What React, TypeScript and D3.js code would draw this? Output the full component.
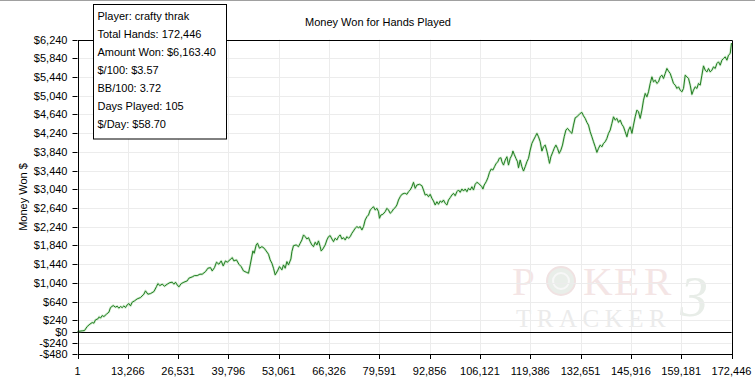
import React from "react";
import * as d3 from "d3";

const hands: number[] = [
  1,1239,1846,2558,3270,3876,4324,4746,5379,5722,6065,6513,6961,7647,8280,8701,9413,10020,10468,10916,
  11338,11786,12235,12657,13105,13553,13975,14423,15030,15742,16612,17508,17930,18563,19249,20145,20831,21200,21727,22334,
  22940,23652,24364,24971,25419,25841,26289,26737,27344,28056,28926,29374,30244,30851,31563,32275,32881,33751,34384,35069,
  35518,36124,36652,37284,37891,38418,39025,39472,40185,40791,41240,41925,42558,43164,
  43771,44483,45089,45537,46250,46592,47120,47462,47990,48623,49229,49757,50363,50811,51259,51681,52129,52736,53263,53896,
  54318,54766,55215,55636,56269,56533,56955,57667,58273,58722,59170,59592,60040,60488,60910,61358,61807,62228,62677,63125,
  63547,63995,64259,64707,65314,65762,66184,66632,67080,67502,67951,68399,68821,69269,69717,70139,70587,71035,71457,71906,
  72354,72776,73224,73672,74094,74542,74990,75412,75861,76309,76731,77179,77627,78049,78497,78946,79368,79631,80000,80528,
  81134,81583,82004,82453,82901,83323,83771,84219,84641,85089,85538,86142,
  86407,86855,87278,87726,88174,88596,89044,89492,90179,90811,91233,91681,92130,92552,93000,93448,93870,94318,94766,95188,
  95636,96085,96507,96955,97403,97825,98273,98721,99143,99592,100040,100462,100910,101358,101780,102229,102677,103099,103547,103995,
  104417,104866,105314,105736,106184,106632,106896,107239,107766,108215,108636,109085,109533,109955,110403,110851,111195,111643,111907,112328,
  112777,113225,113647,114095,114543,114807,115150,115598,116020,116283,116731,117180,117602,118050,118498,118920,119368,119816,120238,120687,
  121135,121557,122005,122453,122875,123324,123772,124194,124457,124826,125354,125697,126145,126565,127014,127463,127885,128333,128781,129203,
  129917,
  130361,130785,131233,131681,132103,132551,133000,133422,133870,134318,134740,135188,135637,136059,136507,136955,137377,137825,138273,138695,
  139144,139592,140014,140462,140910,141332,141780,142229,142651,143099,143547,143969,144417,144866,145288,145736,146184,146606,147054,147503,
  147925,148373,148821,149243,149692,150140,150562,151010,151458,151880,152329,152777,153199,153647,154095,154517,154966,155414,155836,156284,
  156732,157154,157603,158051,158473,158921,159369,159791,160240,160688,161110,161558,162006,162428,162877,163325,163747,164195,164643,165065,
  165514,165962,166384,166832,167280,167702,168151,168599,169021,169469,169917,170339,170788,171236,171658,172106,172446,
];

const moneyWon: number[] = [
  0,15,21,107,158,192,179,250,271,314,286,341,320,371,414,512,555,521,542,499,
  534,512,548,512,570,598,548,627,655,698,726,798,869,798,811,854,960,1024,982,1012,
  969,1012,1046,1054,1012,1054,997,954,1024,1054,1082,1140,1167,1195,1195,1225,1225,1280,1353,1366,
  1295,1366,1481,1438,1509,1402,1509,1481,1530,1579,1509,1530,1438,1387,
  1295,1268,1246,1423,1722,1673,1850,1886,1780,1814,1780,1722,1652,1530,1460,1353,1210,1295,1387,1317,
  1423,1353,1494,1423,1551,1707,1835,1850,1814,1886,1957,2064,2027,1978,2006,1921,1850,1814,1908,1850,
  1936,1814,1722,1765,1850,1957,2027,2049,1978,1921,1993,1957,2027,2064,1978,2006,1957,2027,1993,2027,
  2100,2149,2207,2241,2219,2241,2170,2241,2384,2454,2490,2597,2633,2668,2597,2633,2561,2420,2490,2505,
  2561,2633,2597,2527,2561,2618,2646,2704,2810,2881,2932,2953,
  2953,2932,2988,3024,3094,3188,3060,3131,3146,3116,3024,2917,2932,2881,2932,2847,2789,2704,2774,2719,
  2789,2761,2810,2740,2704,2810,2860,2917,2953,2902,2988,3024,2975,3045,3003,3045,2988,3060,3024,3094,
  3024,3146,3188,3167,3131,3094,3045,3131,3201,3286,3402,3472,3451,3521,3594,3628,3700,3713,3628,3557,
  3664,3735,3557,3700,3771,3856,3786,3700,3628,3500,3664,3521,3429,3521,3628,3700,3877,4020,4091,4161,
  4234,4161,4055,3856,3948,3984,3856,3700,3594,3735,3841,3914,3984,3914,3807,3877,3984,4161,4304,4341,
  4268,
  4234,4411,4567,4588,4624,4661,4682,4609,4554,4469,4411,4268,4161,4055,3948,3828,3914,3984,3948,4020,
  4055,4127,4234,4304,4447,4588,4518,4554,4469,4518,4426,4375,4268,4161,4304,4375,4234,4411,4588,4731,
  4695,4554,4731,4944,5087,5015,5122,5301,5442,5335,5371,5301,5335,5442,5478,5408,5514,5621,5563,5514,
  5408,5301,5265,5194,5229,5158,5122,5194,5478,5442,5408,5265,5066,5158,5229,5194,5301,5265,5478,5676,
  5585,5548,5621,5548,5585,5655,5621,5728,5762,5691,5798,5834,5869,5798,5905,5941,6163.4,
];

const yTicks: number[] = [-480, -240, 0, 240, 640, 1040, 1440, 1840, 2240, 2640, 3040, 3440, 3840, 4240, 4640, 5040, 5440, 5840, 6240];
const xTicks: number[] = [1, 13266, 26531, 39796, 53061, 66326, 79591, 92856, 106121, 119386, 132651, 145916, 159181, 172446];

const infoLines: string[] = [
  "Player: crafty thrak",
  "Total Hands: 172,446",
  "Amount Won: $6,163.40",
  "$/100: $3.57",
  "BB/100: 3.72",
  "Days Played: 105",
  "$/Day: $58.70",
];

const title = "Money Won for Hands Played";
const yLabel = "Money Won $";
const wmTop: string[] = ["P", "K", "E", "R"];
const wmBottom = "TRACKER";
const wmMark = "3";

const W = 755;
const H = 385;
const L = 77.5;
const R = 731.5;
const T = 39.5;
const B = 354;
const FONT = "'Liberation Sans', Arial, sans-serif";

const fmtMoney = (v: number) => (v < 0 ? "-" : "") + "$" + d3.format(",")(Math.abs(v));
const fmtInt = d3.format(",");

export default function App() {
  const x = d3.scaleLinear().domain([1, 172446]).range([L, R]);
  const y = d3.scaleLinear().domain([-480, 6240]).range([B, T]);
  const n = Math.min(hands.length, moneyWon.length);
  const pts: [number, number][] = [];
  for (let i = 0; i < n; i++) pts.push([hands[i], moneyWon[i]]);
  const line = d3
    .line<[number, number]>()
    .x((d) => x(d[0]))
    .y((d) => y(d[1]));
  const path = line(pts) || "";
  const crisp = (v: number) => Math.round(v) + 0.5;
  const wmX = [512, 583, 614, 644];

  return (
    <svg
      width={W}
      height={H}
      style={{ position: "absolute", left: 0, top: 0, background: "#fff" }}
      fontFamily={FONT}
    >
      <rect x={0} y={0} width={W} height={H} fill="#fff" />
      <line x1={0} x2={W} y1={0.5} y2={0.5} stroke="#a0a0a0" />

      {/* watermark */}
      <g fontFamily="'Liberation Serif', 'DejaVu Serif', serif">
        {wmTop.map((c, i) => (
          <text key={"wm" + i} x={wmX[i]} y={295} fontSize={41} fill="#f4e5e5">
            {c}
          </text>
        ))}
        <circle cx={561} cy={281} r={14} fill="#e9eee9" stroke="#f0e2e2" strokeWidth={2} />
        <circle cx={561} cy={281} r={8} fill="none" stroke="#f7f7f7" strokeWidth={2} />
        <text x={516} y={327} fontSize={25} fill="#ebebeb" letterSpacing={5.5}>
          {wmBottom}
        </text>
        <text x={680} y={316} fontSize={56} fill="#e8ede8" fontStyle="italic">
          {wmMark}
        </text>
      </g>

      {/* grid */}
      {xTicks.slice(1, -1).map((t) => (
        <line key={"gx" + t} x1={crisp(x(t))} x2={crisp(x(t))} y1={T} y2={B} stroke="#ececec" />
      ))}
      {yTicks.slice(1).map((t) => (
        <line key={"gy" + t} x1={L} x2={R} y1={crisp(y(t))} y2={crisp(y(t))} stroke="#ececec" />
      ))}

      {/* zero line */}
      <line x1={L} x2={R} y1={crisp(y(0))} y2={crisp(y(0))} stroke="#000" />

      {/* series */}
      <path d={path} fill="none" stroke="#a9dba5" strokeWidth={2.4} strokeOpacity={0.55} strokeLinejoin="round" />
      <path d={path} fill="none" stroke="#217d21" strokeWidth={1} strokeLinejoin="round" />

      {/* frame */}
      <line x1={crisp(L) - 0.5} x2={crisp(R)} y1={crisp(T)} y2={crisp(T)} stroke="#000" />
      <line x1={crisp(R)} x2={crisp(R)} y1={crisp(T)} y2={crisp(B)} stroke="#000" />
      <line x1={crisp(L)} x2={crisp(L)} y1={crisp(T)} y2={crisp(B)} stroke="#000" />
      <line x1={crisp(L)} x2={crisp(R)} y1={crisp(B)} y2={crisp(B)} stroke="#000" />

      {/* y axis */}
      {yTicks.map((t) => (
        <g key={"yt" + t}>
          <line x1={L - 5} x2={L} y1={crisp(y(t))} y2={crisp(y(t))} stroke="#000" />
          <text x={L - 10} y={y(t) + 4} fontSize={11} textAnchor="end" fill="#000">
            {fmtMoney(t)}
          </text>
        </g>
      ))}

      {/* x axis */}
      {xTicks.map((t) => (
        <g key={"xt" + t}>
          <line x1={crisp(x(t))} x2={crisp(x(t))} y1={B} y2={B + 5} stroke="#000" />
          <text x={x(t)} y={375} fontSize={11} textAnchor="middle" fill="#000">
            {fmtInt(t)}
          </text>
        </g>
      ))}

      {/* title */}
      <text x={378} y={26} fontSize={11} textAnchor="middle" fill="#000">
        {title}
      </text>

      {/* y label */}
      <text transform="translate(27,197) rotate(-90)" fontSize={11} textAnchor="middle" fill="#000">
        {yLabel}
      </text>

      {/* info box */}
      <rect x={93.5} y={4.5} width={133} height={134.5} fill="#fff" stroke="#000" />
      {infoLines.map((s, i) => (
        <text key={s} x={97.5} y={19.5 + i * 18} fontSize={11} fill="#000">
          {s}
        </text>
      ))}
    </svg>
  );
}
